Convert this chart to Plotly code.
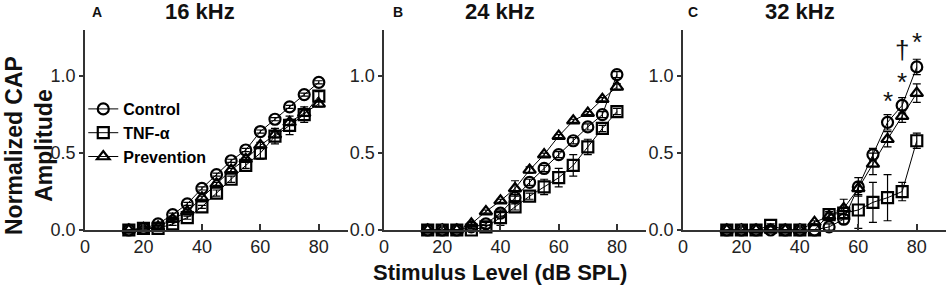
import plotly.graph_objects as go

levels = [15, 20, 25, 30, 35, 40, 45, 50, 55, 60, 65, 70, 75, 80]
series_names = ["Control", "TNF-α", "Prevention"]
panel_titles = ["16 kHz", "24 kHz", "32 kHz"]
panel_letters = ["A", "B", "C"]

# 16 kHz
a_control = [0.0, 0.01, 0.04, 0.10, 0.17, 0.27, 0.36, 0.45, 0.52, 0.64, 0.72, 0.80, 0.88, 0.96]
a_control_err = [0.0, 0.01, 0.01, 0.01, 0.01, 0.01, 0.01, 0.01, 0.01, 0.01, 0.01, 0.01, 0.01, 0.01]
a_tnf = [0.0, 0.01, 0.01, 0.04, 0.08, 0.15, 0.24, 0.33, 0.42, 0.50, 0.61, 0.68, 0.75, 0.87]
a_tnf_err = [0.0, 0.01, 0.01, 0.01, 0.01, 0.01, 0.02, 0.02, 0.02, 0.04, 0.05, 0.06, 0.05, 0.03]
a_prev = [0.0, 0.01, 0.02, 0.07, 0.12, 0.21, 0.30, 0.39, 0.46, 0.55, 0.62, 0.70, 0.76, 0.82]
a_prev_err = [0.0, 0.01, 0.01, 0.01, 0.01, 0.01, 0.01, 0.01, 0.01, 0.02, 0.02, 0.02, 0.02, 0.02]

# 24 kHz
b_control = [0.0, 0.0, 0.0, 0.02, 0.04, 0.11, 0.21, 0.31, 0.40, 0.49, 0.58, 0.67, 0.75, 1.01]
b_control_err = [0.0, 0.0, 0.0, 0.01, 0.01, 0.02, 0.02, 0.02, 0.02, 0.02, 0.02, 0.02, 0.02, 0.02]
b_tnf = [0.0, 0.0, 0.0, 0.0, 0.02, 0.08, 0.15, 0.22, 0.28, 0.34, 0.42, 0.54, 0.66, 0.77]
b_tnf_err = [0.0, 0.0, 0.0, 0.0, 0.01, 0.05, 0.02, 0.02, 0.05, 0.06, 0.07, 0.05, 0.02, 0.02]
b_prev = [0.0, 0.0, 0.0, 0.04, 0.12, 0.19, 0.27, 0.39, 0.49, 0.61, 0.71, 0.76, 0.85, 0.93]
b_prev_err = [0.0, 0.0, 0.0, 0.01, 0.01, 0.01, 0.05, 0.02, 0.01, 0.01, 0.01, 0.01, 0.01, 0.02]

# 32 kHz
c_control = [0.0, 0.0, 0.0, 0.0, 0.0, 0.0, 0.0, 0.02, 0.07, 0.28, 0.49, 0.70, 0.81, 1.06]
c_control_err = [0.0, 0.0, 0.0, 0.0, 0.0, 0.0, 0.0, 0.02, 0.03, 0.06, 0.04, 0.05, 0.05, 0.05]
c_tnf = [0.0, 0.0, 0.0, 0.03, 0.0, 0.0, 0.0, 0.10, 0.11, 0.13, 0.18, 0.21, 0.25, 0.58]
c_tnf_err = [0.0, 0.0, 0.0, 0.01, 0.0, 0.0, 0.0, 0.02, 0.03, 0.12, 0.13, 0.15, 0.06, 0.05]
c_prev = [0.0, 0.0, 0.0, 0.0, 0.0, 0.0, 0.05, 0.09, 0.14, 0.27, 0.43, 0.59, 0.74, 0.89]
c_prev_err = [0.0, 0.0, 0.0, 0.0, 0.0, 0.0, 0.01, 0.02, 0.06, 0.04, 0.07, 0.05, 0.04, 0.06]

sig_x = [70, 75, 75, 80]
sig_y = [0.84, 0.96, 1.17, 1.22]
sig_text = ["*", "*", "†", "*"]

panels = [
    [(a_control, a_control_err), (a_tnf, a_tnf_err), (a_prev, a_prev_err)],
    [(b_control, b_control_err), (b_tnf, b_tnf_err), (b_prev, b_prev_err)],
    [(c_control, c_control_err), (c_tnf, c_tnf_err), (c_prev, c_prev_err)],
]
symbols = ["circle-open", "square-open", "triangle-up-open"]
sizes = [11, 11, 11]

FONT = "Liberation Sans, Arial"
fig = go.Figure()
for p, panel in enumerate(panels):
    ax = "" if p == 0 else str(p + 1)
    for s, (vals, errs) in enumerate(panel):
        fig.add_trace(go.Scatter(
            x=levels, y=vals, name=series_names[s], mode="lines+markers",
            xaxis="x" + ax, yaxis="y" + ax, showlegend=(p == 0),
            line=dict(color="black", width=1),
            marker=dict(symbol=symbols[s], size=sizes[s], color="black",
                        line=dict(color="black", width=2.2)),
            error_y=dict(type="data", array=errs, visible=True, color="black",
                         thickness=1.2, width=4),
            cliponaxis=False,
        ))

domains = [[0.0, 0.3055], [0.3473, 0.6516], [0.6945, 1.0]]
axis_common = dict(showgrid=False, zeroline=False, showline=True,
                   linecolor="#333", linewidth=1.5,
                   tickfont=dict(family=FONT, size=18, color="#222"))
layout = dict(
    width=948, height=289,
    margin=dict(l=85, r=2, t=30, b=59),
    plot_bgcolor="white", paper_bgcolor="white",
    showlegend=True,
    legend=dict(x=-0.002, y=0.69, xanchor="left", yanchor="top",
                font=dict(family=FONT, size=16, color="black", weight="bold"),
                bgcolor="rgba(0,0,0,0)", tracegroupgap=0, itemwidth=30),
)
for p in range(3):
    ax = "" if p == 0 else str(p + 1)
    layout["xaxis" + ax] = dict(axis_common, domain=domains[p], range=[0, 90],
                                tickvals=[0, 20, 40, 60, 80], ticks="inside",
                                ticklen=6, tickwidth=1.5, tickcolor="#333",
                                anchor="y" + ax)
    layout["yaxis" + ax] = dict(axis_common, domain=[0, 1], range=[0, 1.3],
                                tickvals=[0, 0.5, 1.0], ticktext=["0.0", "0.5", "1.0"],
                                ticks="outside", ticklen=4, tickwidth=1.5, tickcolor="#333",
                                anchor="x" + ax)
fig.update_layout(**layout)

ann = []
title_x = [200, 500, 800]
letter_x = [97, 398, 693]
for p in range(3):
    ann.append(dict(text=panel_titles[p], xref="paper", yref="paper",
                    x=(title_x[p] - 85) / 861, y=(230 - 12) / 200, showarrow=False,
                    xanchor="center", yanchor="middle",
                    font=dict(family=FONT, size=22, color="#111", weight="bold")))
    ann.append(dict(text=panel_letters[p], xref="paper", yref="paper",
                    x=(letter_x[p] - 85) / 861, y=(230 - 12) / 200, showarrow=False,
                    xanchor="center", yanchor="middle",
                    font=dict(family=FONT, size=14, color="#111", weight="bold")))
ann.append(dict(text="Stimulus Level (dB SPL)", xref="paper", yref="paper",
                x=(500 - 85) / 861, y=(230 - 272) / 200, showarrow=False,
                xanchor="center", yanchor="middle",
                font=dict(family=FONT, size=22, color="#111", weight="bold")))
ann.append(dict(text="Normalized CAP<br>Amplitude", xref="paper", yref="paper",
                x=(29 - 85) / 861, y=(230 - 145) / 200, showarrow=False, textangle=-90,
                xanchor="center", yanchor="middle",
                font=dict(family=FONT, size=23, color="#111", weight="bold")))
for sx, sy, st in zip(sig_x, sig_y, sig_text):
    ann.append(dict(text=st, xref="x3", yref="y3", x=sx, y=sy, showarrow=False,
                    xanchor="center", yanchor="middle",
                    font=dict(family=FONT, size=26, color="#111")))
fig.update_layout(annotations=ann)

fig.write_html("out.html", config={"displayModeBar": False},
               post_script="document.body.style.margin='0';")
